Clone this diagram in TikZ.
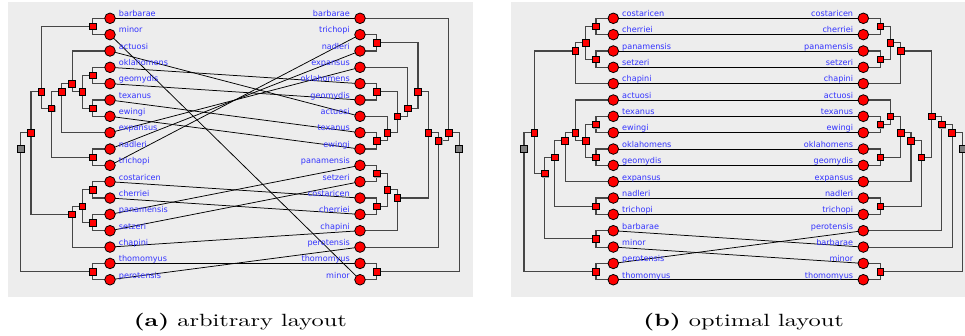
\documentclass[tikz,border=0pt]{standalone}
\usepackage{fontspec}
\newfontfamily\lblfont{DejaVu Sans}
\usetikzlibrary{shadows}
\pgfdeclarelayer{back}
\pgfdeclarelayer{lines}
\pgfsetlayers{back,lines,main}
\definecolor{bgc}{RGB}{237,237,237}
\definecolor{lblc}{RGB}{50,50,255}
\definecolor{treec}{RGB}{70,70,70}
\definecolor{rootc}{RGB}{128,128,128}
\newlength\capw
\begin{document}
\settowidth\capw{\fontsize{10}{12}\selectfont\textbf{(a)} arbitrary layout}
\begin{tikzpicture}[x=1pt,y=-1pt,
  declare function={ry(\r)=18.3+16.34*\r; xl(\h)=92.7-10.29*(\h-1); xr(\h)=376.9+10.27*(\h-1);},
  leaf/.style={circle,draw=black,fill=red,line width=0.8pt,minimum size=10.6pt,inner sep=0pt},
  inode/.style={rectangle,draw=black,fill=red,line width=0.7pt,minimum size=6.6pt,inner sep=0pt,
    drop shadow={shadow xshift=0.7pt,shadow yshift=-0.7pt,fill=black!35,opacity=1}},
  rnode/.style={inode,fill=rootc,minimum size=7pt},
  lblL/.style={anchor=base west,inner sep=0pt,text=lblc,font=\lblfont\fontsize{8.1}{9}\selectfont},
  lblR/.style={lblL,anchor=base east},
  tree/.style={draw=treec,line width=1.1pt},
  tangle/.style={draw=black,line width=0.75pt},
  captext/.style={anchor=base,inner sep=0pt}
]
\useasboundingbox (0,0) rectangle (965,335);
\pgfmathsetmacro\capsx{213/\capw}
\begin{pgfonlayer}{back}
\fill[bgc] (8,2) rectangle (472.7,296.7);
\fill[bgc] (511.3,2) rectangle (965,296.7);
\end{pgfonlayer}

% ---------------- panel (a) ----------------
\foreach \n [count=\i from 0] in {barbarae,minor,actuosi,oklahomens,geomydis,texanus,ewingi,expansus,nadleri,trichopi,costaricen,cherriei,panamensis,setzeri,chapini,thomomyus,perotensis}{
  \node[leaf] (aL\i) at (110,{ry(\i)}) {};
  \node[lblL] (aLt\i) at ([xshift=8.7pt,yshift=1.7pt]aL\i.center) {\n};
}
\foreach \n [count=\i from 0] in {barbarae,trichopi,nadleri,expansus,oklahomens,geomydis,actuosi,texanus,ewingi,panamensis,setzeri,costaricen,cherriei,chapini,perotensis,thomomyus,minor}{
  \node[leaf] (aR\i) at (360,{ry(\i)}) {};
  \node[lblR] (aRt\i) at ([xshift=-10pt,yshift=1.7pt]aR\i.center) {\n};
}
\foreach \nm/\h/\m in {aI1/1/0.5,aI2/1/3.5,aI3/1/5.5,aI4/2/4.5,aI5/3/4,aI6/4/4.5,aI7/1/8.5,aI8/5/5.5,aI9/6/4.5,aI10/1/10.5,aI11/1/12.5,aI12/2/11.5,aI13/3/12,aI14/7/7,aI15/1/15.5}
  \node[inode] (\nm) at ({xl(\h)},{ry(\m)}) {};
\node[rnode] (aI16) at ({xl(8)},{ry(8)}) {};
\foreach \nm/\h/\m in {aJ1/1/1.5,aJ2/1/4.5,aJ3/1/7.5,aJ4/2/7,aJ5/3/6,aJ6/4/5.5,aJ7/5/4.5,aJ8/1/9.5,aJ9/1/11.5,aJ10/2/10.5,aJ11/3/11,aJ12/6/7,aJ13/7/7.5,aJ14/8/7,aJ15/1/15.5}
  \node[inode] (\nm) at ({xr(\h)},{ry(\m)}) {};
\node[rnode] (aJ16) at ({xr(9)},{ry(8)}) {};

\begin{pgfonlayer}{lines}
\foreach \c/\p in {aL0/aI1,aL1/aI1,aL3/aI2,aL4/aI2,aL5/aI3,aL6/aI3,aI2/aI4,aI3/aI4,aL2/aI5,aI4/aI5,aI5/aI6,aL7/aI6,aL8/aI7,aL9/aI7,aI6/aI8,aI7/aI8,aI1/aI9,aI8/aI9,aL10/aI10,aL11/aI10,aL12/aI11,aL13/aI11,aI10/aI12,aI11/aI12,aI12/aI13,aL14/aI13,aI9/aI14,aI13/aI14,aL15/aI15,aL16/aI15,aI14/aI16,aI15/aI16,
  aR1/aJ1,aR2/aJ1,aR4/aJ2,aR5/aJ2,aR7/aJ3,aR8/aJ3,aR6/aJ4,aJ3/aJ4,aJ2/aJ5,aJ4/aJ5,aR3/aJ6,aJ5/aJ6,aJ1/aJ7,aJ6/aJ7,aR9/aJ8,aR10/aJ8,aR11/aJ9,aR12/aJ9,aJ8/aJ10,aJ9/aJ10,aJ10/aJ11,aR13/aJ11,aJ7/aJ12,aJ11/aJ12,aJ12/aJ13,aR14/aJ13,aR0/aJ14,aJ13/aJ14,aR15/aJ15,aR16/aJ15,aJ14/aJ16,aJ15/aJ16}
  \draw[tree] (\c.center) -| (\p.center);
\foreach \l/\r in {0/0,1/16,2/6,3/4,4/5,5/7,6/8,7/3,8/2,9/1,10/11,11/12,12/9,13/10,14/13,15/15,16/14}
  \draw[tangle] (aL\l.center) -- (aR\r.center);
\end{pgfonlayer}

% ---------------- panel (b) ----------------
\begin{scope}[xshift=503.3pt]
\foreach \n [count=\i from 0] in {costaricen,cherriei,panamensis,setzeri,chapini,actuosi,texanus,ewingi,oklahomens,geomydis,expansus,nadleri,trichopi,barbarae,minor,perotensis,thomomyus}{
  \node[leaf] (bL\i) at (110,{ry(\i)}) {};
  \node[lblL] (bLt\i) at ([xshift=8.7pt,yshift=1.7pt]bL\i.center) {\n};
}
\foreach \n [count=\i from 0] in {costaricen,cherriei,panamensis,setzeri,chapini,actuosi,texanus,ewingi,oklahomens,geomydis,expansus,nadleri,trichopi,perotensis,barbarae,minor,thomomyus}{
  \node[leaf] (bR\i) at (360,{ry(\i)}) {};
  \node[lblR] (bRt\i) at ([xshift=-10pt,yshift=1.7pt]bR\i.center) {\n};
}
\foreach \nm/\h/\m in {bI1/1/0.5,bI2/1/2.5,bI3/2/1.5,bI4/3/2,bI5/1/6.5,bI6/1/8.5,bI7/2/7.5,bI8/3/7,bI9/4/7.5,bI10/1/11.5,bI11/5/8.5,bI12/1/13.5,bI13/6/9.5,bI14/7/7,bI15/1/15.5}
  \node[inode] (\nm) at ({xl(\h)},{ry(\m)}) {};
\node[rnode] (bI16) at ({xl(8)},{ry(8)}) {};
\foreach \nm/\h/\m in {bJ1/1/0.5,bJ2/1/2.5,bJ3/2/1.5,bJ4/3/2,bJ5/1/6.5,bJ6/2/6,bJ7/1/8.5,bJ8/3/7,bJ9/4/7.5,bJ10/1/11.5,bJ11/5/8.5,bJ12/6/6,bJ13/7/6.5,bJ14/8/7,bJ15/1/15.5}
  \node[inode] (\nm) at ({xr(\h)},{ry(\m)}) {};
\node[rnode] (bJ16) at ({xr(9)},{ry(8)}) {};
\end{scope}

\begin{pgfonlayer}{lines}
\foreach \c/\p in {bL0/bI1,bL1/bI1,bL2/bI2,bL3/bI2,bI1/bI3,bI2/bI3,bI3/bI4,bL4/bI4,bL6/bI5,bL7/bI5,bL8/bI6,bL9/bI6,bI5/bI7,bI6/bI7,bL5/bI8,bI7/bI8,bI8/bI9,bL10/bI9,bL11/bI10,bL12/bI10,bI9/bI11,bI10/bI11,bL13/bI12,bL14/bI12,bI11/bI13,bI12/bI13,bI4/bI14,bI13/bI14,bL15/bI15,bL16/bI15,bI14/bI16,bI15/bI16,
  bR0/bJ1,bR1/bJ1,bR2/bJ2,bR3/bJ2,bJ1/bJ3,bJ2/bJ3,bJ3/bJ4,bR4/bJ4,bR6/bJ5,bR7/bJ5,bR5/bJ6,bJ5/bJ6,bR8/bJ7,bR9/bJ7,bJ6/bJ8,bJ7/bJ8,bJ8/bJ9,bR10/bJ9,bR11/bJ10,bR12/bJ10,bJ9/bJ11,bJ10/bJ11,bJ4/bJ12,bJ11/bJ12,bJ12/bJ13,bR13/bJ13,bJ13/bJ14,bR14/bJ14,bR15/bJ15,bR16/bJ15,bJ14/bJ16,bJ15/bJ16}
  \draw[tree] (\c.center) -| (\p.center);
\foreach \l/\r in {0/0,1/1,2/2,3/3,4/4,5/5,6/6,7/7,8/8,9/9,10/10,11/11,12/12,13/14,14/15,15/13,16/16}
  \draw[tangle] (bL\l.center) -- (bR\r.center);
\end{pgfonlayer}

% ---------------- captions ----------------
\node[captext] (capa) at (240.3,326.7) {\scalebox{\capsx}[1.77]{\fontsize{10}{12}\selectfont\textbf{(a)} arbitrary layout}};
\node[captext] (capb) at (743.6,326.7) {\scalebox{\capsx}[1.77]{\fontsize{10}{12}\selectfont\textbf{(b)} optimal layout}};
\end{tikzpicture}
\end{document}
